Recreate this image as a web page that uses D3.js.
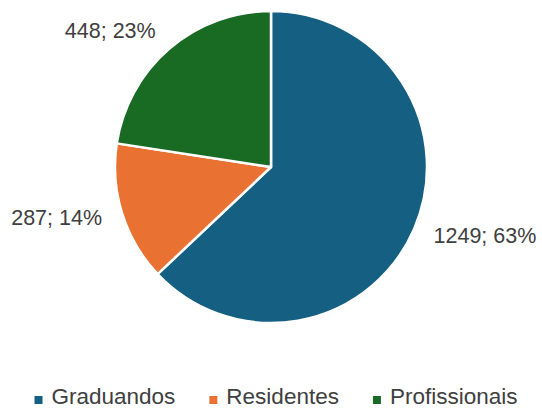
<!DOCTYPE html>
<html>
<head>
<meta charset="utf-8">
<script src="https://cdn.jsdelivr.net/npm/d3@7"></script>
<style>
  body { margin: 0; background: #fff; }
  svg { display: block; font-family: "Liberation Sans", Arial, sans-serif; }
</style>
</head>
<body>
<svg id="chart"></svg>
<script>
const categories = ["Graduandos", "Residentes", "Profissionais"];
const values = [1249, 287, 448];
const colors = ["#156082", "#E97132", "#196B24"];

const width = 542, height = 410;
const cx = 271, cy = 167, radius = 156, labelRadius = 177;

const svg = d3.select("#chart")
  .attr("width", width)
  .attr("height", height);

const total = d3.sum(values);
const data = categories.map((c, i) => ({ name: c, value: values[i], color: colors[i] }));

const pie = d3.pie().value(d => d.value).sort(null);
const arcs = pie(data);

const arc = d3.arc().innerRadius(0).outerRadius(radius);
const labelArc = d3.arc().innerRadius(labelRadius).outerRadius(labelRadius);

const g = svg.append("g").attr("transform", `translate(${cx},${cy})`);

g.selectAll("path.slice")
  .data(arcs)
  .enter().append("path")
  .attr("class", "slice")
  .attr("d", arc)
  .attr("fill", d => d.data.color)
  .attr("stroke", "#fff")
  .attr("stroke-width", 2.5)
  .attr("stroke-linejoin", "round");

// data labels, outside end
g.selectAll("text.lbl")
  .data(arcs)
  .enter().append("text")
  .attr("class", "lbl")
  .attr("transform", d => `translate(${labelArc.centroid(d)})`)
  .attr("text-anchor", d => labelArc.centroid(d)[0] >= 0 ? "start" : "end")
  .attr("dominant-baseline", "middle")
  .attr("font-size", 21.5)
  .attr("fill", "#404040")
  .text(d => `${d.data.value}; ${Math.round(d.data.value / total * 100)}%`);

// legend
const legend = svg.append("g");
const items = legend.selectAll("g.item")
  .data(data)
  .enter().append("g")
  .attr("class", "item");

items.append("rect")
  .attr("width", 8)
  .attr("height", 8)
  .attr("y", -8)
  .attr("fill", d => d.color);

items.append("text")
  .attr("x", 17)
  .attr("font-size", 22.5)
  .attr("fill", "#404040")
  .text(d => d.name);

let x = 0;
const gap = 34;
items.each(function() {
  const w = this.getBBox().width;
  d3.select(this).attr("transform", `translate(${x},0)`);
  x += w + gap;
});
const legendWidth = x - gap;
legend.attr("transform", `translate(${(width - legendWidth) / 2 + 5},404)`);
</script>
</body>
</html>
